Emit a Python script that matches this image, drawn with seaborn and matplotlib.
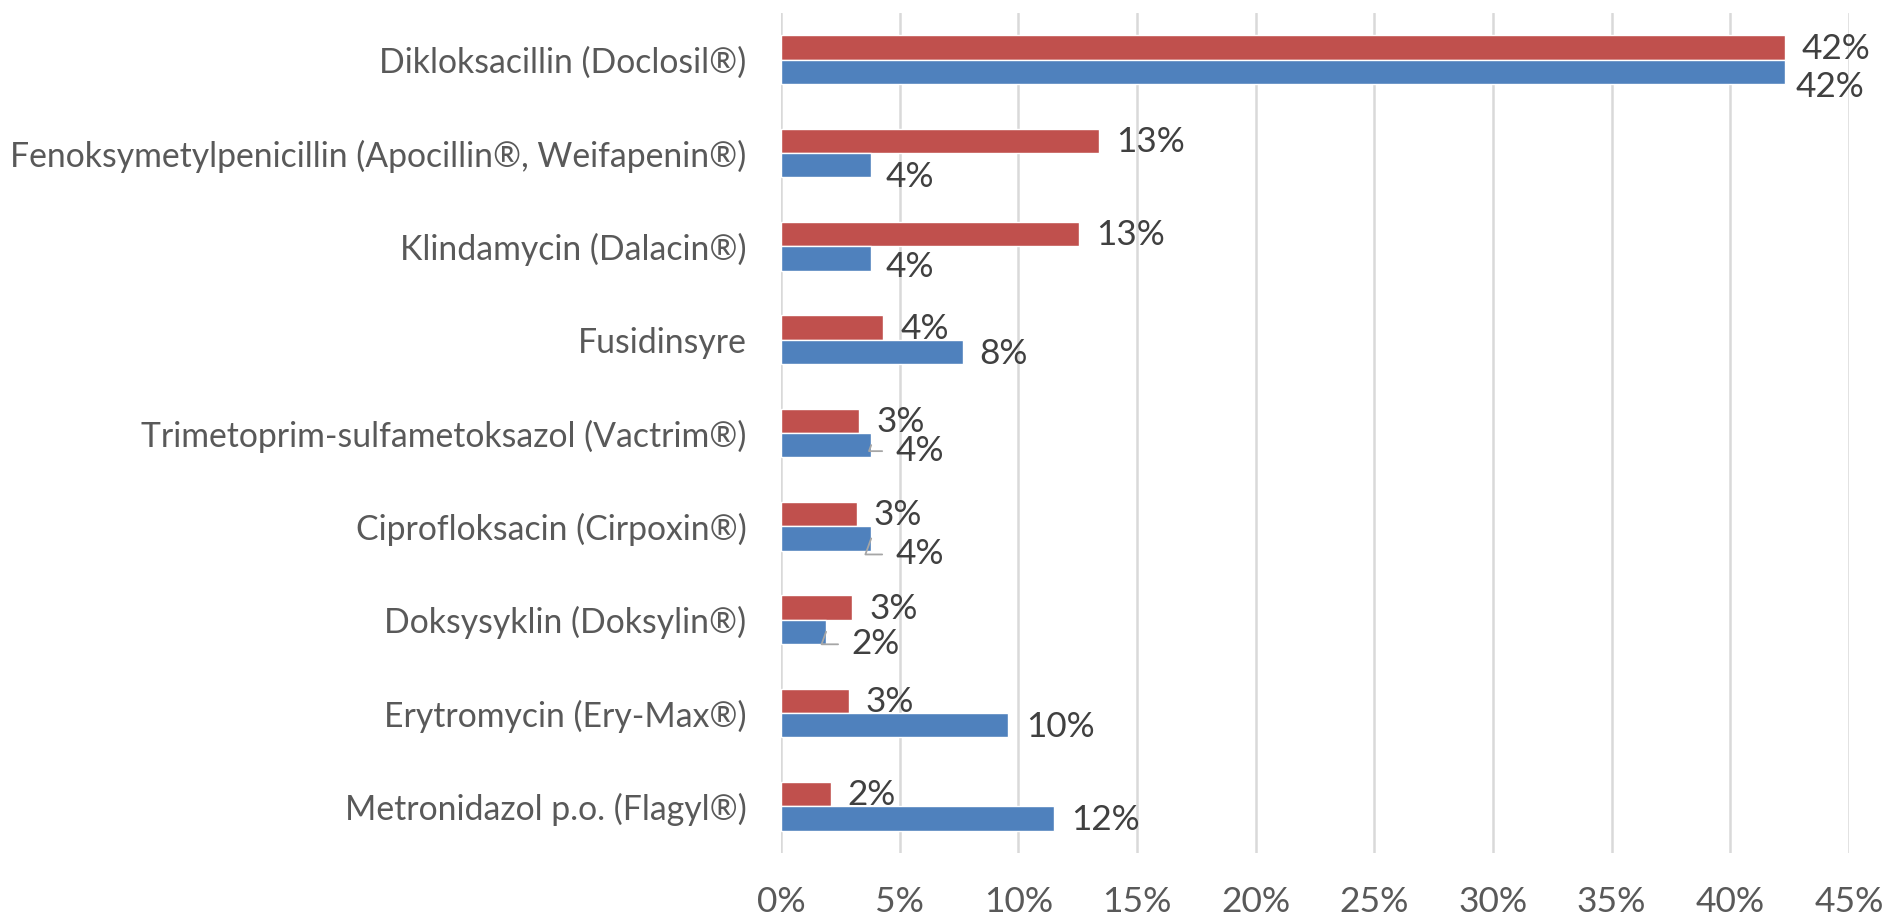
import pandas as pd
import seaborn as sns
import matplotlib.pyplot as plt
from matplotlib.ticker import PercentFormatter

# data (percent)
categories = ['Dikloksacillin (Doclosil®)',
              'Fenoksymetylpenicillin (Apocillin®, Weifapenin®)',
              'Klindamycin (Dalacin®)',
              'Fusidinsyre',
              'Trimetoprim-sulfametoksazol (Vactrim®)',
              'Ciprofloksacin (Cirpoxin®)',
              'Doksysyklin (Doksylin®)',
              'Erytromycin (Ery-Max®)',
              'Metronidazol p.o. (Flagyl®)']
red_values = [42.3, 13.4, 12.55, 4.3, 3.3, 3.2, 3.0, 2.85, 2.1]
blue_values = [42.3, 3.8, 3.8, 7.65, 3.8, 3.8, 1.9, 9.55, 11.5]
series_names = ['Serie 1', 'Serie 2']

# label nudges (pixels), Excel had these dragged around a bit
blue_dy = [15, 12, 9, 2, 6, 16, 12.5, 1.5, 2]
blue_dx = [11, 14, 14, 17, 24, 24, 25, 18, 17]
leader = [False, False, False, False, True, True, True, False, False]

df = pd.DataFrame({
    'drug': categories * 2,
    'value': red_values + blue_values,
    'serie': [series_names[0]] * len(categories) + [series_names[1]] * len(categories),
})

sns.set_style('white')
plt.rcParams['font.family'] = ['Lato', 'DejaVu Sans']
fs = 24.3
px = 0.72  # points per pixel at dpi 100

fig = plt.figure(figsize=(18.83, 9.16), dpi=100)
ax = fig.add_axes([781 / 1883, 1 - 853 / 916, (1849 - 781) / 1883, (853 - 13) / 916])

sns.barplot(data=df, y='drug', x='value', hue='serie', orient='h',
            palette=['#C0504D', '#4F81BD'], saturation=1, width=0.52, gap=0,
            order=categories, hue_order=series_names, legend=False, ax=ax)

ax.set_xlim(0, 45)
ax.set_xticks(range(0, 46, 5))
ax.xaxis.set_major_formatter(PercentFormatter(decimals=0))
ax.grid(axis='x', color='#D9D9D9', linewidth=1.8)
ax.set_axisbelow(True)
for s in ax.spines.values():
    s.set_visible(False)
ax.set_xlabel('')
ax.set_ylabel('')
ax.tick_params(axis='x', length=0, pad=24, labelsize=25.5, labelcolor='#595959')
ax.tick_params(axis='y', length=0, pad=25, labelsize=fs, labelcolor='#595959')

red_bars, blue_bars = ax.containers[0], ax.containers[1]
for i, (rb, bb) in enumerate(zip(red_bars, blue_bars)):
    ax.annotate(f'{red_values[i]:.0f}%', xy=(rb.get_width(), rb.get_y() + rb.get_height() / 2),
                xytext=(17 * px, -1 * px), textcoords='offset points',
                ha='left', va='center', fontsize=fs + 1, color='#404040')
    xy = (bb.get_width(), bb.get_y() + bb.get_height() / 2)
    if leader[i]:
        ax.annotate(f'{blue_values[i]:.0f}%', xy=xy,
                    xytext=(blue_dx[i] * px, -blue_dy[i] * px), textcoords='offset points',
                    ha='left', va='center', fontsize=fs + 1, color='#404040',
                    arrowprops=dict(arrowstyle='-', color='#A6A6A6', lw=1.3,
                                    connectionstyle='angle,angleA=0,angleB=70,rad=0',
                                    relpos=(0, 0.5), shrinkA=7, shrinkB=0))
    else:
        ax.annotate(f'{blue_values[i]:.0f}%', xy=xy,
                    xytext=(blue_dx[i] * px, -blue_dy[i] * px), textcoords='offset points',
                    ha='left', va='center', fontsize=fs + 1, color='#404040')

fig.savefig('out.png', dpi=100)
